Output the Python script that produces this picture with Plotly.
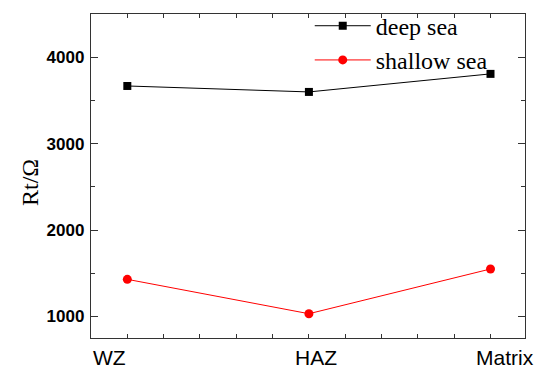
import plotly.graph_objects as go

categories = ["WZ", "HAZ", "Matrix"]
deep_sea = [3667, 3598, 3807]
shallow_sea = [1429, 1031, 1549]
label_shift = [-18, 7, 14]

x_idx = list(range(len(categories)))

fig = go.Figure()
fig.add_trace(go.Scatter(
    x=x_idx, y=deep_sea, name="deep sea", mode="lines+markers",
    line=dict(color="black", width=1),
    marker=dict(symbol="square", size=8, color="black"),
))
fig.add_trace(go.Scatter(
    x=x_idx, y=shallow_sea, name="shallow sea", mode="lines+markers",
    line=dict(color="red", width=1),
    marker=dict(symbol="circle", size=9, color="red"),
))

for i, (c, s) in enumerate(zip(categories, label_shift)):
    fig.add_annotation(
        x=i, xref="x", y=0, yref="paper", yanchor="top", yshift=-6, xshift=s,
        text=c, showarrow=False,
        font=dict(family="Liberation Sans, Arial", size=21, color="black"),
    )

fig.add_annotation(
    x=0, xref="paper", xshift=-76, y=0.5, yref="paper", yshift=-7,
    text="Rt/Ω", textangle=-90, showarrow=False,
    font=dict(family="Liberation Serif, Times New Roman", size=24, color="black"),
)

fig.update_xaxes(
    range=[-0.2, 2.19], tick0=0, dtick=0.2, ticks="inside", ticklen=4,
    tickcolor="#333", showticklabels=False, showgrid=False, zeroline=False,
    showline=True, linecolor="#333", linewidth=1.3, mirror="ticks",
)
fig.update_yaxes(
    range=[750, 4500], tick0=0, dtick=1000, ticks="inside", ticklen=7,
    tickcolor="#333", showgrid=False, zeroline=False,
    showline=True, linecolor="#333", linewidth=1.3, mirror="ticks",
    tickfont=dict(family="Liberation Sans, Arial", size=17, color="black", weight="bold"),
    ticklabelstandoff=2,
    minor=dict(dtick=500, ticks="inside", ticklen=4, tickcolor="#333", showgrid=False),
)

fig.update_layout(
    width=534, height=368,
    margin=dict(l=91, r=9, t=14, b=30, autoexpand=False),
    paper_bgcolor="white", plot_bgcolor="white",
    showlegend=True,
    legend=dict(
        x=0.504, y=1.032, xanchor="left", yanchor="top",
        bgcolor="rgba(0,0,0,0)", itemwidth=56,
        font=dict(family="Liberation Serif, Times New Roman", size=24, color="black"),
        tracegroupgap=0,
    ),
)

fig.write_html("out.html")
